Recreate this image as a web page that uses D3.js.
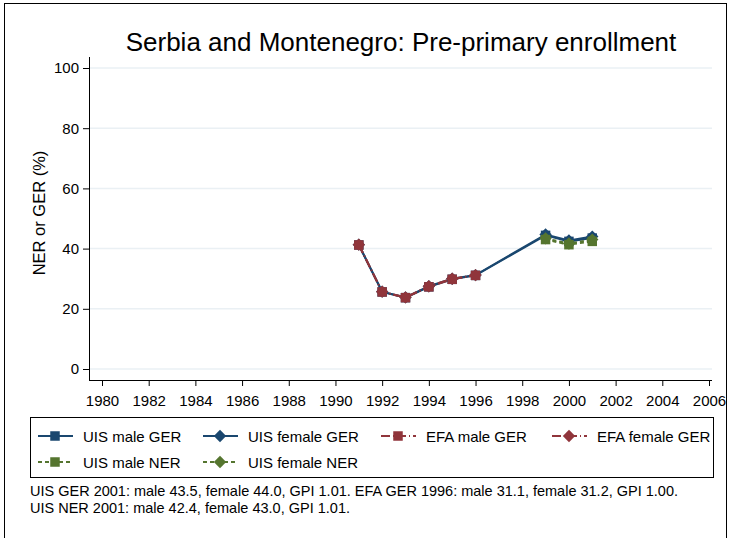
<!DOCTYPE html>
<html lang="en">
<head>
<meta charset="UTF-8">
<title>Serbia and Montenegro: Pre-primary enrollment</title>
<script src="https://d3js.org/d3.v7.min.js"></script>
<style>
    body { margin: 0; background: #fff; }
    svg { font-family: "Liberation Sans", Arial, sans-serif; }
    .tick text { font-size: 15px; fill: #000; }
</style>
</head>
<body>
<svg width="731" height="538"></svg>
<script>
// data
const uisYears = [1991, 1992, 1993, 1994, 1995, 1996, 1999, 2000, 2001];
const uisMaleGER = [41.2, 25.6, 23.7, 27.3, 29.8, 31.1, 44.4, 42.4, 43.5];
const uisFemaleGER = [41.3, 25.7, 23.8, 27.5, 30.0, 31.2, 44.7, 42.7, 44.0];
const efaYears = [1991, 1992, 1993, 1994, 1995, 1996];
const efaMaleGER = [41.2, 25.6, 23.7, 27.3, 29.8, 31.1];
const efaFemaleGER = [41.3, 25.7, 23.8, 27.5, 30.0, 31.2];
const nerYears = [1999, 2000, 2001];
const uisMaleNER = [43.0, 41.3, 42.4];
const uisFemaleNER = [43.4, 41.7, 43.0];

const xTicks = d3.range(1980, 2007, 2);
const yTicks = [0, 20, 40, 60, 80, 100];

const navy = "#1a476f", maroon = "#90353b", green = "#55752f";

const series = [
    {name: "UIS male GER", years: uisYears, values: uisMaleGER, color: navy, shape: "square", dash: null},
    {name: "UIS female GER", years: uisYears, values: uisFemaleGER, color: navy, shape: "diamond", dash: null},
    {name: "EFA male GER", years: efaYears, values: efaMaleGER, color: maroon, shape: "square", dash: "9,3,1,3"},
    {name: "EFA female GER", years: efaYears, values: efaFemaleGER, color: maroon, shape: "diamond", dash: "9,3,1,3"},
    {name: "UIS male NER", years: nerYears, values: uisMaleNER, color: green, shape: "square", dash: "4,3"},
    {name: "UIS female NER", years: nerYears, values: uisFemaleNER, color: green, shape: "diamond", dash: "4,3"}
];

const svg = d3.select("svg");

// outer frame
svg.append("rect")
    .attr("x", 4.5).attr("y", 3.5)
    .attr("width", 722).attr("height", 540)
    .attr("fill", "none").attr("stroke", "#000").attr("stroke-width", 1);

const x = d3.scaleLinear().domain([1980, 2006]).range([102, 709]);
const y = d3.scaleLinear().domain([0, 100]).range([369, 68]);
const plotLeft = 89, plotRight = 712, plotTop = 57, plotBottom = 380;

// gridlines
svg.append("g").selectAll("line")
    .data(yTicks)
    .join("line")
    .attr("x1", plotLeft).attr("x2", plotRight)
    .attr("y1", d => y(d)).attr("y2", d => y(d))
    .attr("stroke", "#eaf0f4").attr("stroke-width", 1.5);

// y axis
const yAxis = svg.append("g")
    .attr("transform", `translate(${plotLeft},0)`)
    .call(d3.axisLeft(y).tickValues(yTicks).tickSize(6).tickPadding(4));
yAxis.select(".domain").remove();
svg.append("line")
    .attr("x1", plotLeft + 0.5).attr("x2", plotLeft + 0.5)
    .attr("y1", plotTop).attr("y2", plotBottom)
    .attr("stroke", "#000");

// x axis
const xAxis = svg.append("g")
    .attr("transform", `translate(0,${plotBottom})`)
    .call(d3.axisBottom(x).tickValues(xTicks).tickFormat(d3.format("d")).tickSize(6).tickPadding(9));
xAxis.select(".domain").remove();
svg.append("line")
    .attr("x1", plotLeft).attr("x2", plotRight)
    .attr("y1", plotBottom + 0.5).attr("y2", plotBottom + 0.5)
    .attr("stroke", "#000");

// y axis title
svg.append("text")
    .attr("transform", `translate(45,213) rotate(-90)`)
    .attr("text-anchor", "middle")
    .attr("font-size", 16.5)
    .text("NER or GER (%)");

// title
svg.append("text")
    .attr("x", 401).attr("y", 51)
    .attr("text-anchor", "middle")
    .attr("font-size", 26)
    .text("Serbia and Montenegro: Pre-primary enrollment");

// square, or a square turned 45 degrees for the diamond
function marker(sel, shape, size, color) {
    const side = shape === "square" ? size : size * 0.92;
    sel.attr("d", d3.symbol().type(d3.symbolSquare).size(side * side))
        .attr("fill", color);
    if (shape === "diamond") {
        sel.attr("transform", function() {
            return (d3.select(this).attr("transform") || "") + " rotate(45)";
        });
    }
}

// lines + markers
const line = d3.line().x(d => x(d[0])).y(d => y(d[1]));
series.forEach(s => {
    const pts = s.years.map((yr, i) => [yr, s.values[i]]);
    svg.append("path")
        .datum(pts)
        .attr("d", line)
        .attr("fill", "none")
        .attr("stroke", s.color)
        .attr("stroke-width", 2)
        .attr("stroke-dasharray", s.dash);
    svg.append("g").selectAll("path")
        .data(pts)
        .join("path")
        .attr("transform", d => `translate(${x(d[0])},${y(d[1])})`)
        .call(marker, s.shape, 9.5, s.color);
});

// legend
svg.append("rect")
    .attr("x", 30.5).attr("y", 417.5)
    .attr("width", 683).attr("height", 60)
    .attr("fill", "#fff").attr("stroke", "#000");

const legendCols = [38, 203, 381, 552];
const legendRows = [436, 462];
series.forEach((s, i) => {
    const lx = legendCols[i % 4], ly = legendRows[Math.floor(i / 4)];
    const g = svg.append("g").attr("transform", `translate(${lx},${ly})`);
    g.append("line")
        .attr("x1", 0).attr("x2", 35).attr("y1", 0).attr("y2", 0)
        .attr("stroke", s.color).attr("stroke-width", 2)
        .attr("stroke-dasharray", s.dash);
    g.append("path")
        .attr("transform", "translate(17,0)")
        .call(marker, s.shape, 9.5, s.color);
    g.append("text")
        .attr("x", 45).attr("y", 5.5)
        .attr("font-size", 15)
        .text(s.name);
});

// notes
const notes = [
    "UIS GER 2001: male 43.5, female 44.0, GPI 1.01. EFA GER 1996: male 31.1, female 31.2, GPI 1.00.",
    "UIS NER 2001: male 42.4, female 43.0, GPI 1.01."
];
svg.append("g").selectAll("text")
    .data(notes)
    .join("text")
    .attr("x", 30)
    .attr("y", (d, i) => 496 + i * 17)
    .attr("font-size", 14.5)
    .text(d => d);
</script>
</body>
</html>
